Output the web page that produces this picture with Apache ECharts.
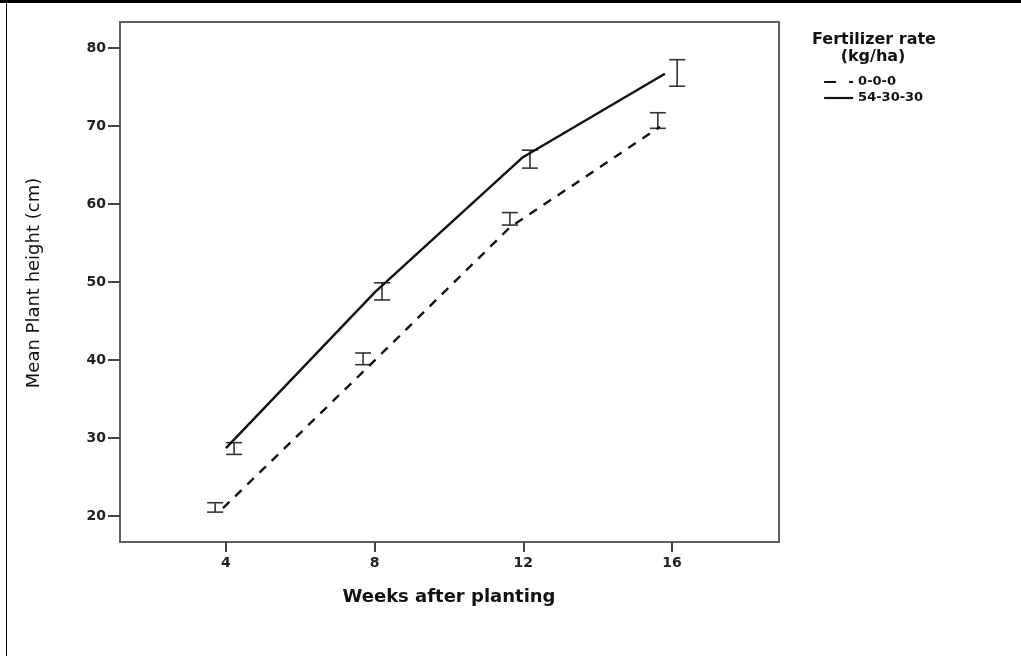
<!DOCTYPE html>
<html>
<head>
<meta charset="utf-8">
<script src="https://cdn.jsdelivr.net/npm/echarts@6/dist/echarts.min.js"></script>
<style>
html,body{margin:0;padding:0;background:#fff;}
#chart{width:1021px;height:656px;}
</style>
</head>
<body>
<div id="chart"></div>
<script>
// Tick labels
const weekTicks = [4, 8, 12, 16];
const heightTicks = [20, 30, 40, 50, 60, 70, 80];
// Series names
const seriesNames = ['0-0-0', '54-30-30'];
// 0-0-0 (dashed) means
const dashLineX = [3.92, 7.80, 11.64, 15.68];
const dashMean = [21.0, 39.0, 57.0, 69.9];
// 54-30-30 (solid) means
const solidLineX = [4.0, 8.01, 11.99, 15.81];
const solidMean = [28.7, 48.7, 66.0, 76.7];
// error bars 0-0-0
const dashBarX = [3.71, 7.69, 11.64, 15.62];
const dashLow = [20.5, 39.4, 57.3, 69.7];
const dashHigh = [21.7, 40.9, 58.9, 71.7];
// error bars 54-30-30
const solidBarX = [4.22, 8.20, 12.18, 16.14];
const solidLow = [27.9, 47.7, 64.6, 75.1];
const solidHigh = [29.4, 49.9, 66.9, 78.5];

const FONT = 'DejaVu Sans';
const chart = echarts.init(document.getElementById('chart'), null, {renderer: 'canvas'});

function errorBar(params, api) {
  const x = api.value(0), lo = api.value(1), hi = api.value(2);
  const a = api.coord([x, lo]), b = api.coord([x, hi]);
  const w = 8;
  const st = {stroke: '#333', lineWidth: 1.6};
  return {type: 'group', children: [
    {type: 'line', shape: {x1: a[0], y1: a[1], x2: b[0], y2: b[1]}, style: st},
    {type: 'line', shape: {x1: a[0] - w, y1: a[1], x2: a[0] + w, y2: a[1]}, style: st},
    {type: 'line', shape: {x1: b[0] - w, y1: b[1], x2: b[0] + w, y2: b[1]}, style: st}
  ]};
}

const axisCol = '#606060';
const option = {
  animation: false,
  backgroundColor: '#fff',
  grid: {left: 120, top: 22, width: 659, height: 520, show: true, borderColor: axisCol, borderWidth: 2, backgroundColor: 'transparent'},
  xAxis: {
    type: 'value', min: 1.15, max: 18.88,
    axisLine: {show: true, lineStyle: {color: axisCol, width: 2}},
    axisTick: {show: true, length: 10, customValues: weekTicks, lineStyle: {color: '#444', width: 2}},
    axisLabel: {customValues: weekTicks, margin: 14, color: '#222', fontFamily: FONT, fontWeight: 'bold', fontSize: 14},
    splitLine: {show: false}
  },
  yAxis: {
    type: 'value', min: 16.667, max: 83.333,
    axisLine: {show: true, lineStyle: {color: axisCol, width: 2}},
    axisTick: {show: true, length: 12, customValues: heightTicks, lineStyle: {color: '#444', width: 2}},
    axisLabel: {customValues: heightTicks, margin: 14, color: '#222', fontFamily: FONT, fontWeight: 'bold', fontSize: 14},
    splitLine: {show: false}
  },
  legend: {
    orient: 'vertical', left: 818, top: 69,
    itemWidth: 29, itemHeight: 10, itemGap: 0,
    textStyle: {fontFamily: FONT, fontWeight: 'bold', fontSize: 13, color: '#111', lineHeight: 16},
    data: [
      {name: seriesNames[0], itemStyle: {opacity: 0}, lineStyle: {type: [12, 13], width: 2.2, color: '#111'}},
      {name: seriesNames[1], itemStyle: {opacity: 0}, lineStyle: {width: 2.2, color: '#111'}}
    ]
  },
  graphic: [
    {type: 'text', x: 874, y: 40, style: {text: 'Fertilizer rate', fontFamily: FONT, fontWeight: 'bold', fontSize: 16, fill: '#111', align: 'center', verticalAlign: 'middle'}},
    {type: 'text', x: 873, y: 57, style: {text: '(kg/ha)', fontFamily: FONT, fontWeight: 'bold', fontSize: 16, fill: '#111', align: 'center', verticalAlign: 'middle'}},
    {type: 'text', x: 449, y: 597, style: {text: 'Weeks after planting', fontFamily: FONT, fontWeight: 'bold', fontSize: 18, fill: '#111', align: 'center', verticalAlign: 'middle'}},
    {type: 'text', x: 34, y: 283, rotation: Math.PI / 2, style: {text: 'Mean Plant height (cm)', fontFamily: FONT, fontSize: 18, fill: '#111', align: 'center', verticalAlign: 'middle'}},
    {type: 'rect', shape: {x: 0, y: 0, width: 1021, height: 3}, style: {fill: '#000'}},
    {type: 'rect', shape: {x: 6, y: 0, width: 1, height: 656}, style: {fill: '#000'}}
  ],
  series: [
    {name: seriesNames[0], type: 'line', symbol: 'none', data: dashLineX.map((x, i) => [x, dashMean[i]]),
     lineStyle: {color: '#111', width: 2.4, type: [9, 8]}, itemStyle: {color: '#111'}, emphasis: {disabled: true}},
    {name: seriesNames[1], type: 'line', symbol: 'none', data: solidLineX.map((x, i) => [x, solidMean[i]]),
     lineStyle: {color: '#111', width: 2.4}, itemStyle: {color: '#111'}, emphasis: {disabled: true}},
    {name: seriesNames[0], type: 'custom', renderItem: errorBar, encode: {x: 0, y: [1, 2]},
     data: dashBarX.map((x, i) => [x, dashLow[i], dashHigh[i]]), z: 3},
    {name: seriesNames[1], type: 'custom', renderItem: errorBar, encode: {x: 0, y: [1, 2]},
     data: solidBarX.map((x, i) => [x, solidLow[i], solidHigh[i]]), z: 3}
  ]
};
chart.setOption(option);
</script>
</body>
</html>
